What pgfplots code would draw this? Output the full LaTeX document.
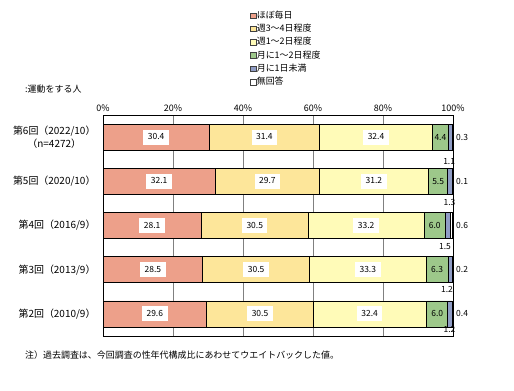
\documentclass[border=0pt]{standalone}
\usepackage{fontspec}
\setmainfont{Noto Sans CJK JP}
\usepackage{pgfplots}
\usepackage{pgfplotstable}
\pgfplotsset{compat=1.18}
\definecolor{c1}{HTML}{EDA08A}
\definecolor{c2}{HTML}{FDE69A}
\definecolor{c3}{HTML}{FFFBB8}
\definecolor{c4}{HTML}{9DC88A}
\definecolor{c5}{HTML}{8F9CC5}
\definecolor{c6}{HTML}{FFFFFF}

\pgfplotstableread{
row a b c d e f
1 29.6 30.5 32.4 6.0 1.2 0.4
2 28.5 30.5 33.3 6.3 1.2 0.2
3 28.1 30.5 33.2 6.0 1.5 0.6
4 32.1 29.7 31.2 5.5 1.3 0.1
5 30.4 31.4 32.4 4.4 1.1 0.3
}\datatable

\begin{document}
\begin{tikzpicture}[x=1bp,y=1bp]
\useasboundingbox (0,0) rectangle (514,-390);
\pgfplotsset{
 base/.style={at={(103bp,-115bp)}, anchor=north west, width=350bp, height=221bp,
   scale only axis, xmin=0, xmax=100, ymin=0.5, ymax=5.5, clip=false},
}
\begin{axis}[base,
  xbar stacked, bar width=0.59,
  xtick={0,20,40,60,80,100}, xticklabels={0\%,20\%,40\%,60\%,80\%,100\%},
  xticklabel pos=upper,
  ytick={1,2,3,4,5},
  yticklabels={第2回（2010/9）,第3回（2013/9）,第4回（2016/9）,第5回（2020/10）,{第6回（2022/10）\\（n=4272）}},
  yticklabel style={align=center, font=\fontsize{10}{13}\selectfont, xshift=-4bp},
  xticklabel style={font=\fontsize{9}{10}\selectfont},
  /pgf/number format/assume math mode=true,
  major tick length=0pt,
  xmajorgrids, grid style={gray, line width=0.6bp},
  axis line style={black, line width=0.8bp},
  legend style={draw=none, fill=none, at={(0.42,1.475)}, anchor=north west,
    font=\fontsize{9}{10}\selectfont, row sep=2.6bp, inner sep=0pt,
    nodes={inner sep=0.5bp, text height=7.5bp, text depth=2.2bp},
    cells={anchor=west}},
  legend image code/.code={\draw[#1, draw=black!75, line width=0.5bp] (0bp,-2.8bp) rectangle (5.6bp,2.8bp);},
  legend cell align=left,
]
\addplot[fill=c1, draw=black, line width=0.7bp] table[x=a, y=row]{\datatable};
\addplot[fill=c2, draw=black, line width=0.7bp] table[x=b, y=row]{\datatable};
\addplot[fill=c3, draw=black, line width=0.7bp] table[x=c, y=row]{\datatable};
\addplot[fill=c4, draw=black, line width=0.7bp] table[x=d, y=row]{\datatable};
\addplot[fill=c5, draw=black, line width=0.7bp] table[x=e, y=row]{\datatable};
\addplot[fill=c6, draw=black, line width=0.7bp] table[x=f, y=row]{\datatable};
\legend{ほぼ毎日,週3～4日程度,週1～2日程度,月に1～2日程度,月に1日未満,無回答}
\end{axis}

\begin{axis}[base, hide axis]
\addplot[draw=none, mark=none, nodes near coords, point meta=explicit symbolic,
  every node near coord/.append style={anchor=center, fill=white, font=\fontsize{8.5}{9}\selectfont,
    inner xsep=4.5bp, inner ysep=3.5bp, text height=6.5bp, text depth=1.5bp}]
coordinates {
(15.2,5)[30.4] (46.1,5)[31.4] (78.0,5)[32.4]
(16.05,4)[32.1] (46.95,4)[29.7] (77.4,4)[31.2]
(14.05,3)[28.1] (43.35,3)[30.5] (75.2,3)[33.2]
(14.25,2)[28.5] (43.75,2)[30.5] (75.65,2)[33.3]
(14.8,1)[29.6] (44.85,1)[30.5] (76.2,1)[32.4]
};
\addplot[draw=none, mark=none, nodes near coords, point meta=explicit symbolic,
  every node near coord/.append style={anchor=center, font=\fontsize{8.5}{9}\selectfont, inner sep=0pt}]
coordinates {
(96.4,5)[4.4] (95.75,4)[5.5] (94.8,3)[6.0] (95.45,2)[6.3] (95.5,1)[6.0]
(98.9,4.45)[1.1] (99.0,3.52)[1.3] (97.7,2.53)[1.5] (98.3,1.55)[1.2] (99.0,0.65)[1.2]
};
\addplot[draw=none, mark=none, nodes near coords, point meta=explicit symbolic,
  every node near coord/.append style={anchor=west, xshift=3bp, font=\fontsize{8.5}{9}\selectfont, inner sep=0pt}]
coordinates {
(100,5)[0.3] (100,4)[0.1] (100,3)[0.6] (100,2)[0.2] (100,1)[0.4]
};
\end{axis}

\node[anchor=west, inner sep=0pt, font=\fontsize{9}{10}\selectfont] at (25,-89) {:運動をする人};
\node[anchor=west, inner sep=0pt, font=\fontsize{9}{10}\selectfont] at (25,-355) {注）過去調査は、今回調査の性年代構成比にあわせてウエイトバックした値。};
\end{tikzpicture}
\end{document}
